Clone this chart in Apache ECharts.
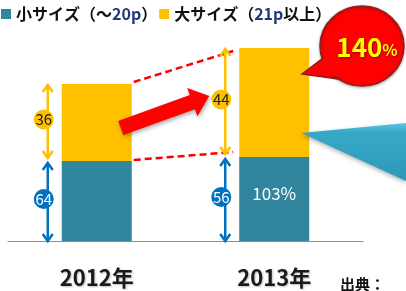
<!DOCTYPE html>
<html>
<head>
<meta charset="utf-8">
<script src="https://cdn.jsdelivr.net/npm/echarts@6/dist/echarts.min.js"></script>
<style>
  html, body { margin: 0; padding: 0; background: #fff; }
  #main { width: 406px; height: 291px; }
</style>
</head>
<body>
<div id="main"></div>
<script>
// bar heights as drawn in the picture (the drawing is not to scale)
const years = ['2012年', '2013年'];
const smallBar = [80, 84];
const largeBar = [77, 109];
// shares printed beside the bars (%)
const smallShare = ['64', '56'];
const largeShare = ['36', '44'];
const totalGrowth = '140';
const smallGrowth = '103%';
const legendNames = ['小サイズ（～20p）', '大サイズ（21p以上）'];

const FONT = '"Noto Sans CJK JP", sans-serif';
const TEAL = '#31859C';
const YELLOW = '#FFC000';
const BLUE = '#0070C0';
const RED = '#FF0000';

const chart = echarts.init(document.getElementById('main'));

chart.setOption({
    animation: false,
    legend: {
        left: -4,
        top: 1,
        icon: 'rect',
        itemWidth: 10,
        itemHeight: 10,
        itemGap: 2,
        data: legendNames,
        formatter: name => name.replace(/(\d+p)/, '{n|$1}'),
        textStyle: {
            fontFamily: FONT,
            fontSize: 16,
            fontWeight: 'bold',
            color: '#111',
            rich: {
                n: { fontFamily: FONT, fontSize: 16, fontWeight: 'bold', color: '#1F3A7A' }
            }
        }
    },
    grid: { left: 8, right: 43, top: 41, bottom: 50 },
    xAxis: {
        type: 'category',
        data: years,
        axisLine: { lineStyle: { color: '#8f8f8f', width: 1 } },
        axisTick: { length: 8, lineStyle: { color: '#8f8f8f' } },
        axisLabel: {
            margin: 26,
            fontFamily: FONT,
            fontSize: 22,
            fontWeight: 'bold',
            color: '#1a1a1a',
            textShadowColor: 'rgba(0,0,0,0.25)',
            textShadowBlur: 2,
            textShadowOffsetX: 1,
            textShadowOffsetY: 1
        }
    },
    yAxis: { type: 'value', min: 0, max: 200, show: false },
    series: [
        {
            name: legendNames[0],
            type: 'bar',
            stack: 'total',
            barWidth: 70,
            itemStyle: { color: TEAL },
            label: {
                position: 'inside',
                offset: [0, -5],
                color: '#fff',
                fontFamily: FONT,
                fontSize: 17
            },
            data: smallBar.map((v, i) => i === 1 ? { value: v, label: { show: true, formatter: smallGrowth } } : v)
        },
        {
            name: legendNames[1],
            type: 'bar',
            stack: 'total',
            barWidth: 70,
            itemStyle: { color: YELLOW },
            data: largeBar
        }
    ]
});

// annotations placed from the axis scales
const px = (i, v) => chart.convertToPixel({ xAxisIndex: 0, yAxisIndex: 0 }, [i, v]);
const half = 35;
const g = [];

function doubleArrow(x, y1, y2, color) {
    const s = { stroke: color, lineWidth: 2.5, fill: null };
    g.push({ type: 'line', shape: { x1: x, y1: y1, x2: x, y2: y2 }, style: s, z: 10 });
    g.push({ type: 'polyline', shape: { points: [[x - 5, y1 + 7], [x, y1], [x + 5, y1 + 7]] }, style: s, z: 10 });
    g.push({ type: 'polyline', shape: { points: [[x - 5, y2 - 7], [x, y2], [x + 5, y2 - 7]] }, style: s, z: 10 });
}

function badge(x, y, fill, textColor, text) {
    g.push({ type: 'circle', shape: { cx: x, cy: y, r: 10 }, style: { fill: fill }, z: 11 });
    g.push({
        type: 'text', x: x, y: y, z: 12,
        style: { text: text, fill: textColor, font: '15px ' + FONT, align: 'center', verticalAlign: 'middle' }
    });
}

const pts = years.map((y, i) => ({
    base: px(i, 0),
    mid: px(i, smallBar[i]),
    top: px(i, smallBar[i] + largeBar[i])
}));

pts.forEach((p, i) => {
    const ax = p.base[0] - 49;
    doubleArrow(ax, p.top[1] + 1, p.mid[1] - 3, YELLOW);
    doubleArrow(ax, p.mid[1] + 2, p.base[1], BLUE);
    badge(ax - 4, (p.top[1] + p.mid[1]) / 2 - 3, YELLOW, '#222', largeShare[i]);
    badge(ax - 4, (p.mid[1] + p.base[1]) / 2 - 2, BLUE, '#fff', smallShare[i]);
});

// red dashed guide lines between the bars
const r0 = pts[0].base[0] + half, l1 = pts[1].base[0] - half;
const dash = { stroke: RED, lineWidth: 2.5, lineDash: [7, 4] };
g.push({ type: 'line', shape: { x1: r0 + 2, y1: pts[0].top[1] - 2, x2: l1 - 6, y2: pts[1].top[1] + 3 }, style: dash, z: 5 });
g.push({ type: 'line', shape: { x1: r0 + 2, y1: pts[0].mid[1] - 1, x2: l1 - 6, y2: pts[1].mid[1] - 5 }, style: dash, z: 5 });

// big red arrow
(function () {
    const sx = r0 - 11, sy = 128, ex = l1 - 30, ey = 96;
    const dx = ex - sx, dy = ey - sy, len = Math.hypot(dx, dy);
    const ux = dx / len, uy = dy / len, nx = -uy, ny = ux;
    const bw = 7.5, hw = 15, hl = 18;
    const bx = ex - ux * hl, by = ey - uy * hl;
    const p = [
        [sx + nx * bw, sy + ny * bw], [bx + nx * bw, by + ny * bw], [bx + nx * hw, by + ny * hw],
        [ex, ey],
        [bx - nx * hw, by - ny * hw], [bx - nx * bw, by - ny * bw], [sx - nx * bw, sy - ny * bw]
    ];
    g.push({
        type: 'polygon', shape: { points: p }, z: 8,
        style: { fill: RED, shadowColor: 'rgba(0,0,0,0.35)', shadowBlur: 4, shadowOffsetX: 1, shadowOffsetY: 2 }
    });
})();

// red speech bubble "140%": outlined tail, outlined circle, then tail fill over the seam
const tail = [[323, 58], [302, 74], [338, 79]];
g.push({ type: 'polygon', z: 20, shape: { points: tail }, style: { fill: RED, stroke: '#8B2323', lineWidth: 1.5 } });
g.push({
    type: 'ellipse', z: 21, shape: { cx: 362, cy: 46, rx: 42, ry: 40 },
    style: { fill: RED, stroke: '#8B2323', lineWidth: 1.5, shadowColor: 'rgba(0,0,0,0.3)', shadowBlur: 3, shadowOffsetY: 1 }
});
g.push({ type: 'polygon', z: 22, shape: { points: [[326, 57], [305, 73], [337, 76], [340, 60]] }, style: { fill: RED } });
g.push({
    type: 'text', x: 367, y: 47, z: 23,
    style: {
        text: '{a|' + totalGrowth + '}{b|%}',
        align: 'center', verticalAlign: 'middle',
        rich: {
            a: { fontFamily: FONT, fontSize: 26, fontWeight: 'bold', fill: '#FFFF00' },
            b: { fontFamily: FONT, fontSize: 16, fontWeight: 'bold', fill: '#FFFF00', padding: [6, 0, 0, 0] }
        },
        textShadowColor: 'rgba(0,0,0,0.4)', textShadowBlur: 2, textShadowOffsetX: 1, textShadowOffsetY: 1
    }
});

// cyan callout pointer
g.push({
    type: 'polygon', z: 15,
    shape: { points: [[pts[1].base[0] + half - 8, 133], [406, 123], [406, 181]] },
    style: {
        fill: new echarts.graphic.LinearGradient(0, 0, 0, 1, [
            { offset: 0, color: '#5BC8E2' }, { offset: 0.15, color: '#37A9C8' }, { offset: 1, color: '#2E98B8' }
        ]),
        shadowColor: 'rgba(0,0,0,0.3)', shadowBlur: 4, shadowOffsetY: 2
    }
});

// source note
g.push({
    type: 'text', x: 340, y: 277, z: 5,
    style: { text: '出典：', font: 'bold 15px ' + FONT, fill: '#111' }
});

chart.setOption({ graphic: g });
</script>
</body>
</html>
